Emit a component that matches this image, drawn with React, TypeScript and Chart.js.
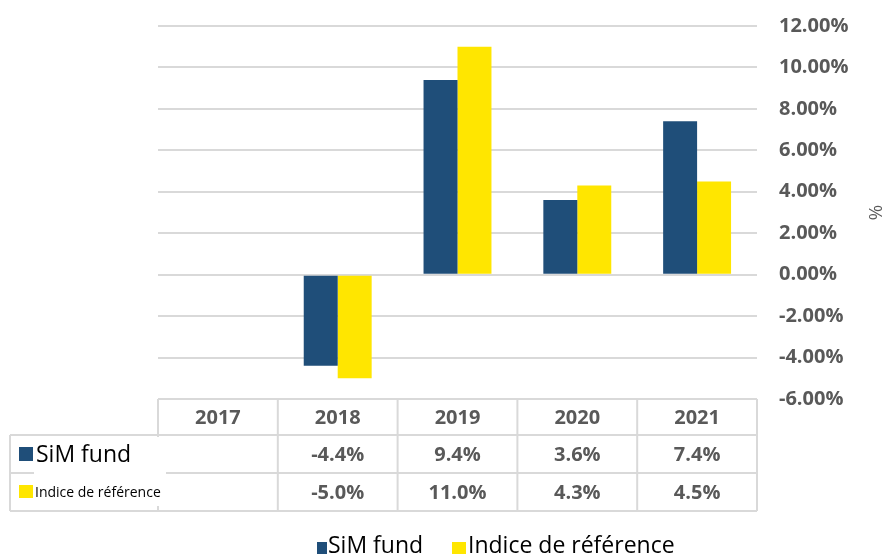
import React, { useEffect, useRef } from "react";
import { Chart, registerables } from "chart.js";

Chart.register(...registerables);

const years = ["2017", "2018", "2019", "2020", "2021"];
const simFund: (number | null)[] = [null, -4.4, 9.4, 3.6, 7.4];
const benchmark: (number | null)[] = [null, -5.0, 11.0, 4.3, 4.5];
const seriesNames = ["SiM fund", "Indice de référence"];
const seriesColors = ["#1F4E79", "#FFE600"];
const yMin = -6;
const yMax = 12;
const yStep = 2;
const yTitle = "%";

const FONT = "'Open Sans', 'DejaVu Sans', sans-serif";
const GRID = "#d9d9d9";
const TEXT_GRAY = "#595959";

const tablePlugin = {
  id: "dataTable",
  afterDraw(chart: any) {
    const ctx = chart.ctx as CanvasRenderingContext2D;
    const xs = chart.scales.x;
    const area = chart.chartArea;
    const n = years.length;
    const catW = (area.right - area.left) / n;
    const top = area.bottom;
    const r1 = top + 36;
    const r2 = r1 + 38;
    const r3 = r2 + 38;
    const labelLeft = 10;

    ctx.save();
    ctx.strokeStyle = GRID;
    ctx.lineWidth = 2;
    const hline = (y: number, x0: number, x1: number) => {
      ctx.beginPath();
      ctx.moveTo(x0, y);
      ctx.lineTo(x1, y);
      ctx.stroke();
    };
    const vline = (x: number, y0: number, y1: number) => {
      ctx.beginPath();
      ctx.moveTo(x, y0);
      ctx.lineTo(x, y1);
      ctx.stroke();
    };
    hline(top, area.left, area.right);
    hline(r1, labelLeft, area.right);
    hline(r2, labelLeft, area.right);
    hline(r3, labelLeft, area.right);
    vline(labelLeft, r1, r3);
    for (let i = 0; i <= n; i++) {
      const x = i < n ? xs.getPixelForValue(i) - catW / 2 : area.right;
      vline(x, top, r3);
    }

    // white backgrounds behind row labels
    ctx.fillStyle = "#ffffff";
    ctx.fillRect(34, r1 + 2, 132, r2 - r1 - 3);
    ctx.fillRect(34, r2 - 1, 132, 34);

    // header + values
    ctx.fillStyle = TEXT_GRAY;
    ctx.font = `bold 20px ${FONT}`;
    ctx.textAlign = "center";
    ctx.textBaseline = "middle";
    years.forEach((y, i) => {
      ctx.fillText(y, xs.getPixelForValue(i), (top + r1) / 2 + 1);
    });
    const rows = [simFund, benchmark];
    const rowMid = [(r1 + r2) / 2 + 1, (r2 + r3) / 2 + 1];
    rows.forEach((row, ri) => {
      row.forEach((v, i) => {
        if (v === null) return;
        ctx.fillText(v.toFixed(1) + "%", xs.getPixelForValue(i), rowMid[ri]);
      });
    });

    // row labels
    ctx.textAlign = "left";
    ctx.fillStyle = seriesColors[0];
    ctx.fillRect(19, r1 + 12, 14, 14);
    ctx.fillStyle = "#000000";
    ctx.font = `23px ${FONT}`;
    ctx.fillText(seriesNames[0], 36, rowMid[0]);
    ctx.fillStyle = seriesColors[1];
    ctx.fillRect(19, r2 + 12, 14, 13);
    ctx.fillStyle = "#000000";
    ctx.font = `14px ${FONT}`;
    ctx.fillText(seriesNames[1], 35, rowMid[1]);

    // bottom legend
    ctx.textBaseline = "alphabetic";
    ctx.font = `23px ${FONT}`;
    ctx.fillStyle = seriesColors[0];
    ctx.fillRect(317, 542, 10, 12);
    ctx.fillStyle = "#000000";
    ctx.fillText(seriesNames[0], 328, 553);
    ctx.fillStyle = seriesColors[1];
    ctx.fillRect(452, 542, 14, 12);
    ctx.fillStyle = "#000000";
    ctx.fillText(seriesNames[1], 468, 553);
    ctx.restore();
  },
};

export default function App() {
  const ref = useRef<HTMLCanvasElement | null>(null);
  useEffect(() => {
    if (!ref.current) return;
    const chart = new Chart(ref.current, {
      type: "bar",
      data: {
        labels: years,
        datasets: [
          {
            label: seriesNames[0],
            data: simFund,
            backgroundColor: seriesColors[0],
            categoryPercentage: 0.567,
            barPercentage: 1,
          },
          {
            label: seriesNames[1],
            data: benchmark,
            backgroundColor: seriesColors[1],
            categoryPercentage: 0.567,
            barPercentage: 1,
          },
        ],
      },
      options: {
        responsive: false,
        animation: false,
        layout: { padding: { left: 158, top: 26, bottom: 155, right: 0 } },
        plugins: {
          legend: { display: false },
          tooltip: { enabled: false },
        },
        scales: {
          x: {
            display: false,
            grid: { display: false },
          },
          y: {
            position: "right",
            min: yMin,
            max: yMax,
            border: { display: false },
            grid: {
              color: GRID,
              lineWidth: 2,
              drawTicks: true,
              tickLength: 22,
              tickColor: "rgba(0,0,0,0)",
            },
            ticks: {
              stepSize: yStep,
              padding: 0,
              color: TEXT_GRAY,
              font: { family: FONT, size: 20, weight: "bold" },
              callback: (v: any) => Number(v).toFixed(2) + "%",
            },
            title: {
              display: true,
              text: yTitle,
              color: TEXT_GRAY,
              padding: 0,
              font: { family: FONT, size: 19, lineHeight: 1 },
            },
            afterFit: (scale: any) => {
              scale.width = 127;
            },
          },
        },
      },
      plugins: [tablePlugin],
    });
    return () => chart.destroy();
  }, []);
  return (
    <canvas
      ref={ref}
      width={884}
      height={554}
      style={{ position: "absolute", left: 0, top: 0, display: "block" }}
    />
  );
}
